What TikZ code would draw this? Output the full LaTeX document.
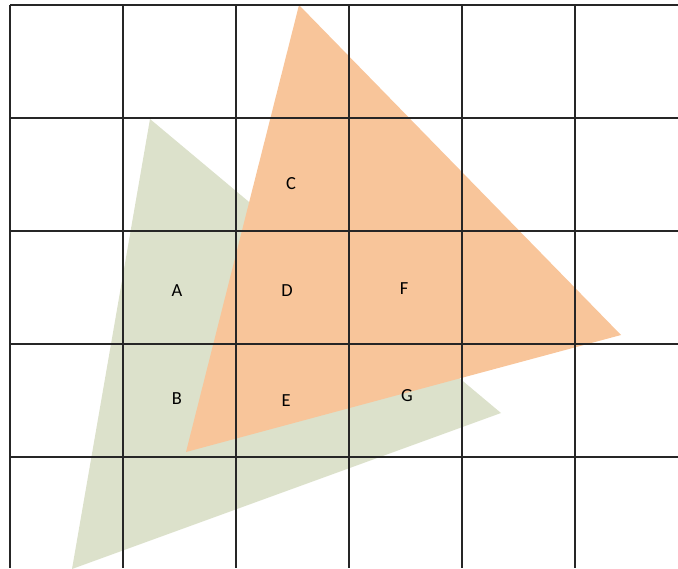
\documentclass[tikz,border=0pt]{standalone}
\usepackage{fontspec}
\setmainfont{Carlito}
\definecolor{greenfill}{HTML}{DCE1CB}
\definecolor{orangefill}{HTML}{F8C59A}
\begin{document}
\begin{tikzpicture}[
  x=0.02cm,
  y=-0.02cm,
  gridline/.style={
    draw=black!85,
    line width=0.6pt
  },
  cellname/.style={
    font=\fontsize{10.5}{12}\selectfont,
    inner sep=0pt
  }
]

\useasboundingbox (0,0) rectangle (678,568);

% triangles
\fill[greenfill] (150,119) -- (72,569) -- (501,413) -- cycle;
\fill[orangefill] (299,5) -- (621,335) -- (186,452) -- cycle;

% grid
\foreach \gx in {10,123,236,349,462,575} {
  \draw[gridline] (\gx,5) -- (\gx,568);
}
\foreach \gy in {5,118,231,344,457} {
  \draw[gridline] (10,\gy) -- (678,\gy);
}

% cell labels
\node[cellname] (C) at (291,184) {C};
\node[cellname] (A) at (177,291) {A};
\node[cellname] (D) at (287,291) {D};
\node[cellname] (F) at (404,289) {F};
\node[cellname] (B) at (177,399) {B};
\node[cellname] (E) at (286,401) {E};
\node[cellname] (G) at (407,396) {G};

\end{tikzpicture}
\end{document}
